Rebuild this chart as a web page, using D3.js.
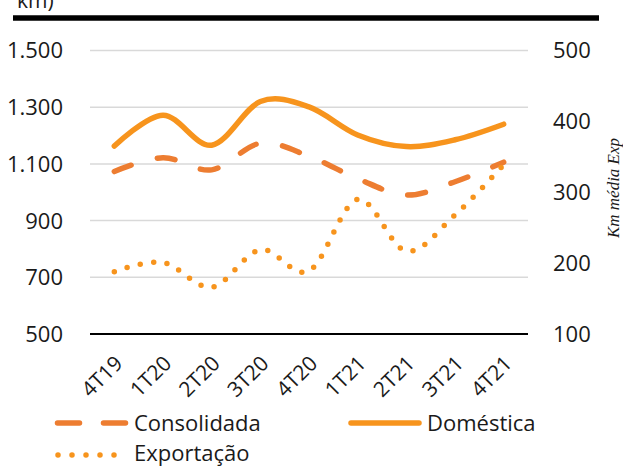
<!DOCTYPE html>
<html>
<head>
<meta charset="utf-8">
<script src="https://cdn.jsdelivr.net/npm/d3@7"></script>
<style>
  body { margin: 0; background: #fff; }
  text { font-family: "Open Sans", sans-serif; fill: #1a1a1a; }
</style>
</head>
<body>
<div id="chart"></div>
<script>
const width = 623;
const height = 466;

const quarters = ["4T19", "1T20", "2T20", "3T20", "4T20", "1T21", "2T21", "3T21", "4T21"];
const consolidada = [1073, 1122, 1079, 1173, 1127, 1048, 990, 1037, 1106];
const domestica = [1163, 1272, 1166, 1320, 1301, 1202, 1161, 1185, 1240];
const exportacao = [188, 201, 166, 219, 189, 290, 217, 268, 339];
const leftTicks = [500, 700, 900, 1100, 1300, 1500];
const rightTicks = [100, 200, 300, 400, 500];

const orange = "#ED7D31";
const gold = "#F7941D";

const svg = d3.select("#chart").append("svg")
  .attr("width", width)
  .attr("height", height);

// top of a title that is cut off
svg.append("text")
  .attr("x", 17).attr("y", 8)
  .style("font-size", "21px")
  .text("km)");

svg.append("line")
  .attr("x1", 13).attr("x2", 599)
  .attr("y1", 18).attr("y2", 18)
  .attr("stroke", "#000").attr("stroke-width", 5.5);

const x = d3.scaleBand().domain(quarters).range([90, 528]);
const yLeft = d3.scaleLinear().domain([500, 1500]).range([334, 50.5]);
const yRight = d3.scaleLinear().domain([100, 500]).range([334, 50.5]);

// gridlines
svg.append("g")
  .selectAll("line")
  .data(leftTicks.slice(1))
  .enter()
  .append("line")
  .attr("x1", 90).attr("x2", 528)
  .attr("y1", d => yLeft(d)).attr("y2", d => yLeft(d))
  .attr("stroke", "#d9d9d9").attr("stroke-width", 1.5);

// left axis labels
svg.append("g")
  .selectAll("text")
  .data(leftTicks)
  .enter()
  .append("text")
  .attr("x", 63)
  .attr("y", d => yLeft(d))
  .attr("dy", "0.36em")
  .attr("text-anchor", "end")
  .style("font-size", "22px")
  .text(d => d3.format(",")(d).replace(",", "."));

// right axis labels
svg.append("g")
  .selectAll("text")
  .data(rightTicks)
  .enter()
  .append("text")
  .attr("x", 553)
  .attr("y", d => yRight(d))
  .attr("dy", "0.36em")
  .attr("text-anchor", "start")
  .style("font-size", "22px")
  .text(d => d);

svg.append("text")
  .attr("transform", "translate(619,188) rotate(-90)")
  .attr("text-anchor", "middle")
  .style("font-family", "'Liberation Serif', serif")
  .style("font-style", "italic")
  .style("font-size", "17px")
  .text("Km média Exp");

// x axis line
svg.append("line")
  .attr("x1", 90).attr("x2", 528)
  .attr("y1", 334).attr("y2", 334)
  .attr("stroke", "#000").attr("stroke-width", 2);

// x labels
svg.append("g")
  .selectAll("text")
  .data(quarters)
  .enter()
  .append("text")
  .attr("transform", d => "translate(" + (x(d) + x.bandwidth() / 2 - 1) + ",354) rotate(-45)")
  .attr("text-anchor", "end")
  .attr("dy", "0.72em")
  .style("font-size", "21px")
  .text(d => d);

const cx = (d, i) => x(quarters[i]) + x.bandwidth() / 2;
const curve = d3.curveCardinal.tension(0);

const lineLeft = d3.line().x(cx).y(d => yLeft(d)).curve(curve);
const lineRight = d3.line().x(cx).y(d => yRight(d)).curve(curve);

svg.append("path")
  .attr("d", lineLeft(domestica))
  .attr("fill", "none")
  .attr("stroke", gold).attr("stroke-width", 5.5)
  .attr("stroke-linecap", "round");

svg.append("path")
  .attr("d", lineLeft(consolidada))
  .attr("fill", "none")
  .attr("stroke", orange).attr("stroke-width", 5.5)
  .attr("stroke-linecap", "round")
  .attr("stroke-dasharray", "18 27");

svg.append("path")
  .attr("d", lineRight(exportacao))
  .attr("fill", "none")
  .attr("stroke", gold).attr("stroke-width", 5.5)
  .attr("stroke-linecap", "round")
  .attr("stroke-dasharray", "0 13.5");

// legend
const legend = svg.append("g");

legend.append("line")
  .attr("x1", 57.5).attr("x2", 126).attr("y1", 423).attr("y2", 423)
  .attr("stroke", orange).attr("stroke-width", 5.5)
  .attr("stroke-linecap", "round")
  .attr("stroke-dasharray", "22 24");
legend.append("text")
  .attr("x", 134).attr("y", 423).attr("dy", "0.36em")
  .style("font-size", "22px")
  .text("Consolidada");

legend.append("line")
  .attr("x1", 351).attr("x2", 419).attr("y1", 423).attr("y2", 423)
  .attr("stroke", gold).attr("stroke-width", 5.5)
  .attr("stroke-linecap", "round");
legend.append("text")
  .attr("x", 427).attr("y", 423).attr("dy", "0.36em")
  .style("font-size", "22px")
  .text("Doméstica");

legend.append("line")
  .attr("x1", 58).attr("x2", 116).attr("y1", 455).attr("y2", 455)
  .attr("stroke", gold).attr("stroke-width", 5.5)
  .attr("stroke-linecap", "round")
  .attr("stroke-dasharray", "0 14");
legend.append("text")
  .attr("x", 134).attr("y", 453).attr("dy", "0.36em")
  .style("font-size", "22px")
  .text("Exportação");
</script>
</body>
</html>
